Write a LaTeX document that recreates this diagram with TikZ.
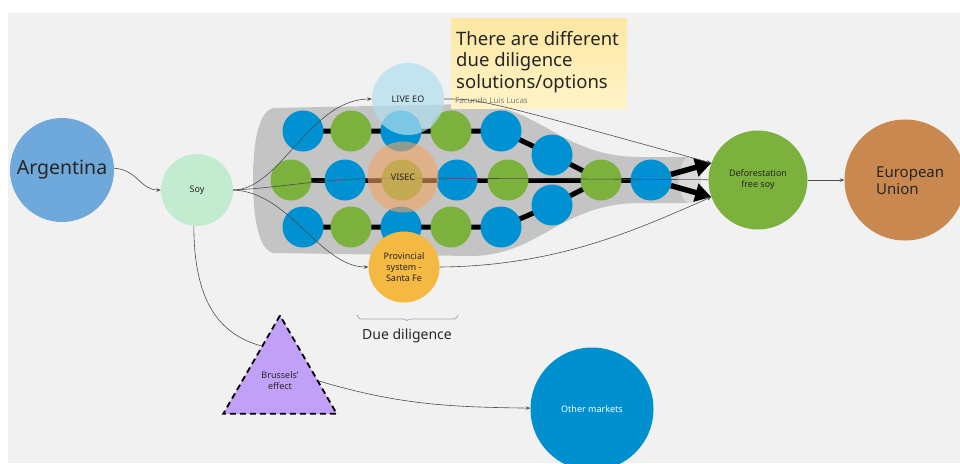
\documentclass[tikz,border=0pt]{standalone}
\usepackage{fontspec}
\setmainfont{Noto Sans}
\usetikzlibrary{arrows.meta,shapes.geometric}

\definecolor{canvas}{HTML}{F1F1F1}
\definecolor{ink}{HTML}{262626}
\definecolor{linkgray}{HTML}{4D4D4D}
\definecolor{bottlegray}{HTML}{C4C4C4}
\definecolor{mouthgray}{HTML}{DADADA}
\definecolor{gridblue}{HTML}{0091D2}
\definecolor{gridgreen}{HTML}{7BB13C}
\definecolor{argblue}{HTML}{6FA8DA}
\definecolor{soygreen}{HTML}{C3EBD0}
\definecolor{liveblue}{HTML}{B0DFEE}
\definecolor{visecorange}{HTML}{F3A462}
\definecolor{provyellow}{HTML}{F4B942}
\definecolor{defgreen}{HTML}{7BB13C}
\definecolor{eubrown}{HTML}{C8884F}
\definecolor{omblue}{HTML}{0090D0}
\definecolor{brusselspurple}{HTML}{C1A1F7}
\definecolor{notetop}{HTML}{FDE8A2}
\definecolor{notebot}{HTML}{FFF3C8}

\pgfdeclarelayer{canvaslayer}
\pgfdeclarelayer{bottle}
\pgfdeclarelayer{rows}
\pgfdeclarelayer{links}
\pgfdeclarelayer{front}
\pgfsetlayers{canvaslayer,bottle,rows,main,links,front}

\tikzset{
  dot/.style={circle, inner sep=0pt, minimum size=41pt},
  bluedot/.style={dot, fill=gridblue},
  greendot/.style={dot, fill=gridgreen},
  bubble/.style={circle, inner sep=0pt, align=center, text=ink,
    font=\fontsize{9}{10.8}\selectfont},
  link/.style={draw=linkgray, line width=0.6pt, -{Stealth[length=4.5pt,width=3.5pt]}},
  plainlink/.style={draw=linkgray, line width=0.6pt},
  rowline/.style={draw=black, line width=5pt},
  bigarrow/.style={draw=black, line width=5.5pt, -{Triangle[length=16pt,width=18pt]}},
  bracepen/.style={draw=gray!70, line width=0.7pt, rounded corners=1.5pt},
}

\begin{document}
\begin{tikzpicture}[x=1pt, y=-1pt]
\useasboundingbox (0,0) rectangle (960,463);
\begin{pgfonlayer}{canvaslayer}
  \fill[white] (0,0) rectangle (960,463);
  \fill[canvas] (8,13) rectangle (960,463);
\end{pgfonlayer}

% bottle-shaped funnel behind the grid
\begin{pgfonlayer}{bottle}
  \fill[bottlegray] (274,108) -- (470,104)
    .. controls (540,104) and (560,157) .. (640,157) -- (690,157)
    -- (690,203) -- (640,203)
    .. controls (560,203) and (540,256) .. (470,256) -- (274,253)
    .. controls (258,251) and (253,215) .. (253,180)
    .. controls (253,145) and (258,110) .. (274,108) -- cycle;
  \fill[mouthgray] (690,180) ellipse [x radius=11, y radius=23];
\end{pgfonlayer}

% grid of circles
\node[bluedot]  (a1) at (303,131) {};
\node[greendot] (a2) at (351,131) {};
\node[bluedot]  (a3) at (401,131) {};
\node[greendot] (a4) at (451,131) {};
\node[bluedot]  (a5) at (501,131) {};
\node[greendot] (b1) at (291,180) {};
\node[bluedot]  (b2) at (345,180) {};
\node[greendot] (b3) at (402,180) {};
\node[bluedot]  (b4) at (457,180) {};
\node[greendot] (b5) at (508,180) {};
\node[greendot] (b6) at (601,180) {};
\node[bluedot]  (b7) at (651,180) {};
\node[bluedot]  (c1) at (303,227) {};
\node[greendot] (c2) at (351,227) {};
\node[bluedot]  (c3) at (401,227) {};
\node[greendot] (c4) at (451,227) {};
\node[bluedot]  (c5) at (501,227) {};
\node[bluedot]  (s1) at (552,155) {};
\node[bluedot]  (s2) at (552,205) {};

\begin{pgfonlayer}{rows}
  \draw[rowline] (a1.center) -- (a5.center) -- (s1.center) -- (b6.center);
  \draw[rowline] (c1.center) -- (c5.center) -- (s2.center) -- (b6.center);
  \draw[rowline] (b1.center) -- (b7.center);
\end{pgfonlayer}

% main nodes
\node[bubble, fill=argblue, minimum size=104pt, font=\fontsize{19.5}{24}\selectfont]
  (arg) at (62,170) {Argentina};
\node[bubble, fill=soygreen, minimum size=72pt] (soy) at (197,190) {Soy};
\node[bubble, fill=defgreen, minimum size=99pt] (def) at (758,180)
  {Deforestation\\free soy};
\node[bubble, fill=eubrown, minimum size=121pt] (eu) at (905,180) {};
\node[anchor=west, inner sep=0pt, align=left, text=ink,
  font=\fontsize{15}{17}\selectfont] (eutext) at (876,181) {European\\Union};
\node[bubble, fill=omblue, minimum size=123pt, text=white] (om) at (592,409)
  {Other markets};
\node[regular polygon, regular polygon sides=3, minimum size=131pt, inner sep=0pt,
  fill=brusselspurple, draw=black, line width=1.8pt, dash pattern=on 6pt off 4pt,
  align=center, text=ink, font=\fontsize{9}{10.8}\selectfont]
  (brussels) at (280,381) {Brussels'\\effect};

\begin{pgfonlayer}{front}
  \node[bubble, fill=liveblue, fill opacity=0.7, text opacity=1, minimum size=72pt]
    (live) at (408,99) {LIVE EO};
  \node[bubble, fill=visecorange, fill opacity=0.6, text opacity=1, minimum size=71pt]
    (visec) at (403,177) {VISEC};
  \node[bubble, fill=provyellow, minimum size=71pt] (prov) at (404,267)
    {Provincial\\system -\\Santa Fe};
\end{pgfonlayer}

% thick arrows into the outcome
\draw[bigarrow] (b7) -- (def.160);
\draw[bigarrow] (b7) -- (def.200);

% sticky note
\node[rectangle, minimum width=176pt, minimum height=90pt, inner sep=0pt,
  top color=notetop, bottom color=notebot, anchor=north west] (note) at (451,18) {};
\node[anchor=north west, inner sep=0pt, align=left, text=ink,
  font=\fontsize{18.5}{21.5}\selectfont] (notetext) at (456,31)
  {There are different\\due diligence\\solutions/options};
\node[anchor=west, inner sep=0pt, text=gray, font=\fontsize{8}{9}\selectfont]
  (author) at (455,100) {Facundo Luis Lucas};

% connectors
\begin{pgfonlayer}{links}
  \draw[link] (arg.2) .. controls (138,170) and (140,190) .. (soy);
  \draw[link] (soy.0) .. controls (280,190) and (310,99) .. (live);
  \draw[plainlink] (soy.0) .. controls (280,188) and (320,178) .. (400,178) -- (def);
  \draw[link] (soy.0) .. controls (290,192) and (320,267) .. (prov);
  \draw[plainlink] (soy.265) .. controls (194,300) and (218,334) .. (brussels.118);
  \draw[link] (brussels.0) .. controls (400,405) and (450,407) .. (om);
  \draw[link, line width=0.9pt] (def) -- (eu);
\end{pgfonlayer}
\begin{pgfonlayer}{front}
  \draw[link] (live.0) .. controls (480,99) and (480,99) .. (def.160);
  \draw[link] (prov.0) .. controls (560,266) and (640,228) .. (def.200);
\end{pgfonlayer}

% brace and its label
\draw[bracepen] (357,315) -- (359,319) -- (405,319) -- (407,321) -- (409,319)
  -- (456,319) -- (458,315);
\node[text=ink, font=\fontsize{14}{16}\selectfont] (duelabel) at (407,336) {Due diligence};
\end{tikzpicture}
\end{document}
